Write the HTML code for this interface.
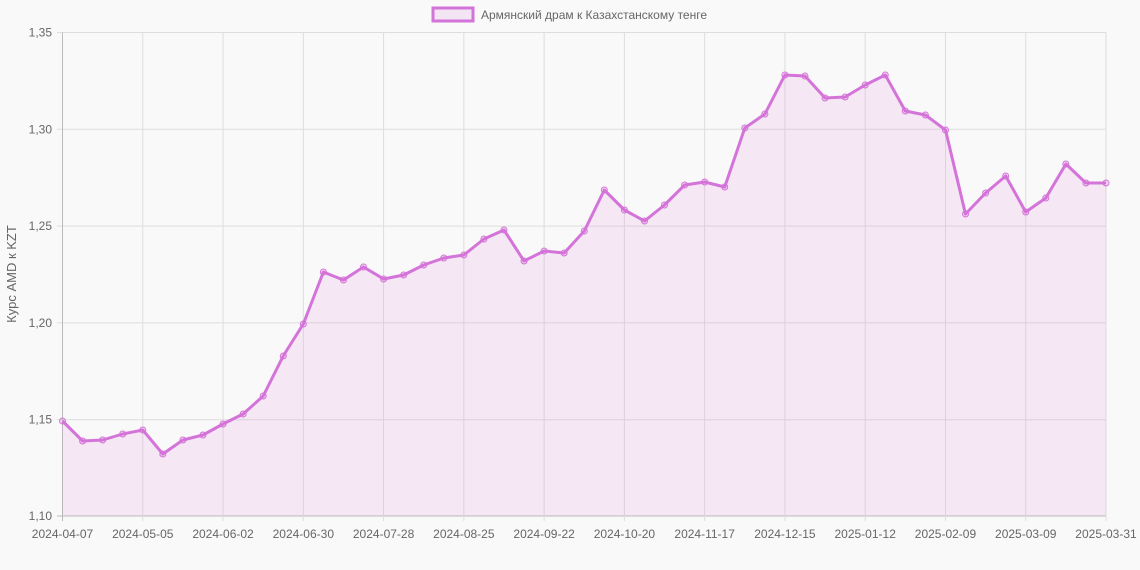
<!DOCTYPE html>
<html><head><meta charset="utf-8"><style>
html,body{margin:0;padding:0;background:#f9f9f9;}
svg{display:block;font-family:"Liberation Sans",sans-serif;}
</style></head><body>
<svg id="c" width="1140" height="570" viewBox="0 0 1140 570" xmlns="http://www.w3.org/2000/svg">
<rect width="1140" height="570" fill="#f9f9f9"/>
<g id="grid"></g>
<path id="area" fill="rgba(218,112,214,0.12)" stroke="none"/>
<path id="line" fill="none" stroke="#d473d9" stroke-width="3" stroke-linejoin="round"/>
<g id="pts"></g>
<g id="lbl" font-size="12" fill="#666"></g>
<rect x="433" y="8" width="40" height="13" fill="rgba(218,112,214,0.15)" stroke="#d473d9" stroke-width="3"/>
<text x="481" y="19" font-size="12" fill="#666">Армянский драм к Казахстанскому тенге</text>
<text transform="translate(16,274) rotate(-90)" text-anchor="middle" font-size="13" fill="#666">Курс AMD к KZT</text>
</svg>
<script>
var ys=[421,441,440,434,430,454,440,435,424,414,396,356,324,272,280,267,279,275,265,258,255,239,230,261,251,253,231,190,210,221,205,185,182,187,128,114,75,76,98,97,85,75,111,115,130,214,193,176,212,198,164,183,183];
var x0=62.5,x1=1106,n=ys.length,dx=(x1-x0)/(n-1);
var ns="http://www.w3.org/2000/svg";
function el(t,a,p){var e=document.createElementNS(ns,t);for(var k in a)e.setAttribute(k,a[k]);document.getElementById(p).appendChild(e);return e;}
var yt=[["1,35",32.5],["1,30",129.3],["1,25",226.1],["1,20",322.9],["1,15",419.7],["1,10",516]];
yt.forEach(function(t,i){el("line",{x1:57,x2:x1,y1:t[1],y2:t[1],stroke:i==5?"#bbb":"#ddd","stroke-width":1},"grid");
var tx=el("text",{x:52,y:t[1]+4,"text-anchor":"end"},"lbl");tx.textContent=t[0];});
var labs=["2024-04-07","2024-05-05","2024-06-02","2024-06-30","2024-07-28","2024-08-25","2024-09-22","2024-10-20","2024-11-17","2024-12-15","2025-01-12","2025-02-09","2025-03-09","2025-03-31"];
for(var i=0;i<14;i++){var idx=i<13?i*4:52;var x=x0+idx*dx;
el("line",{x1:x,x2:x,y1:32.5,y2:521,stroke:i==0?"#bbb":"#ddd","stroke-width":1},"grid");
var tx=el("text",{x:x,y:538,"text-anchor":"middle"},"lbl");tx.textContent=labs[i];}
var d="";ys.forEach(function(y,i){d+=(i?"L":"M")+(x0+i*dx).toFixed(1)+","+y;});
document.getElementById("line").setAttribute("d",d);
document.getElementById("area").setAttribute("d",d+"L"+x1+",516L"+x0+",516Z");
ys.forEach(function(y,i){el("circle",{cx:x0+i*dx,cy:y,r:3,fill:"rgba(218,112,214,0.2)",stroke:"#d473d9","stroke-width":1},"pts");});
</script>
</body></html>
